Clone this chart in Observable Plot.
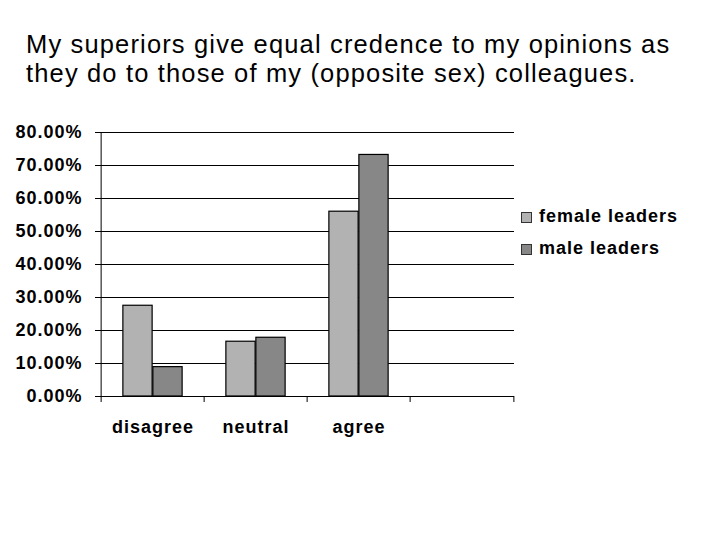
<!DOCTYPE html>
<html><head><meta charset="utf-8">
<script src="https://cdn.jsdelivr.net/npm/d3@7"></script>
<script src="https://cdn.jsdelivr.net/npm/@observablehq/plot@0.6"></script>
<style>
html,body{margin:0;padding:0;background:#fff;}
#wrap{position:relative;width:719px;height:539px;overflow:hidden;font-family:"Liberation Sans",Arial,sans-serif;background:#fff;}
#title{position:absolute;left:26px;top:30px;font-size:25.5px;letter-spacing:1.15px;line-height:28.5px;color:#000;white-space:nowrap;}
#chart{position:absolute;left:0;top:100px;}
#chart svg text{letter-spacing:1px;}
.lg{position:absolute;left:521px;font-size:18px;font-weight:bold;line-height:20px;letter-spacing:1px;white-space:nowrap;color:#000;}
.lg .sw{position:absolute;left:0;top:6px;width:9px;height:9px;border:1px solid #333;}
.lg .tx{position:absolute;left:18px;top:0;}
</style></head>
<body>
<div id="wrap">
  <div id="title">My superiors give equal credence to my opinions as<br>they do to those of my (opposite sex) colleagues.</div>
  <div id="chart"></div>
  <div id="legend"></div>
</div>
<script>
const categories = ["disagree", "neutral", "agree", ""];
const seriesNames = ["female leaders", "male leaders"];
const female = [0.275, 0.166, 0.56];
const male = [0.089, 0.178, 0.732];
const yTicks = [0, 0.1, 0.2, 0.3, 0.4, 0.5, 0.6, 0.7, 0.8];
const colors = ["#b2b2b2", "#878787"];

const rows = [];
categories.slice(0, 3).forEach((c, i) => {
  rows.push({category: c, series: seriesNames[0], value: female[i]});
  rows.push({category: c, series: seriesNames[1], value: male[i]});
});

const W = 719, H = 339, mL = 99, mR = 205, mT = 32, mB = 43;
const bw = (W - mL - mR) / categories.length;
const barW = 30, off = (bw - 2 * barW) / 2;

const chart = Plot.plot({
  width: W, height: H,
  marginLeft: mL, marginRight: mR, marginTop: mT, marginBottom: mB,
  style: {fontFamily: "'Liberation Sans', Arial, sans-serif", fontSize: "18px", fontWeight: "bold", color: "#000", background: "#fff", overflow: "visible"},
  x: {type: "band", domain: categories, padding: 0, axis: null, label: null},
  y: {domain: [0, 0.8], axis: null, label: null},
  color: {domain: seriesNames, range: colors},
  marks: [
    Plot.gridY(yTicks, {stroke: "#000", strokeOpacity: 1, strokeWidth: 1}),
    Plot.axisY(yTicks, {tickSize: 4, tickPadding: 13, stroke: "#000", strokeOpacity: 1, tickFormat: d3.format(".2%"), label: null}),
    Plot.barY(rows.filter(d => d.series === seriesNames[0]), {x: "category", y: "value", fill: "series", stroke: "#000", strokeWidth: 1.2, insetLeft: off, insetRight: bw - off - barW}),
    Plot.barY(rows.filter(d => d.series === seriesNames[1]), {x: "category", y: "value", fill: "series", stroke: "#000", strokeWidth: 1.2, insetLeft: off + barW, insetRight: off}),
    Plot.ruleY([0], {stroke: "#000"}),
    Plot.ruleX([categories[0]], {dx: -bw / 2, y1: 0, y2: 0.8, stroke: "#000"}),
    Plot.axisX(categories, {tickSize: 6, tickFormat: () => "", dx: -bw / 2, stroke: "#000", strokeOpacity: 1, label: null}),
    Plot.axisX([categories[categories.length - 1]], {tickSize: 6, tickFormat: () => "", dx: bw / 2, stroke: "#000", strokeOpacity: 1, label: null}),
    Plot.axisX(categories, {tickSize: 0, tickPadding: 24, label: null})
  ]
});
document.getElementById("chart").appendChild(chart);

const legend = document.getElementById("legend");
const rowTops = [205.5, 237.5];
seriesNames.forEach((name, i) => {
  const div = document.createElement("div");
  div.className = "lg";
  div.style.top = rowTops[i] + "px";
  const sw = document.createElement("span");
  sw.className = "sw";
  sw.style.background = colors[i];
  const tx = document.createElement("span");
  tx.className = "tx";
  tx.textContent = name;
  div.appendChild(sw);
  div.appendChild(tx);
  legend.appendChild(div);
});
</script>
</body></html>
